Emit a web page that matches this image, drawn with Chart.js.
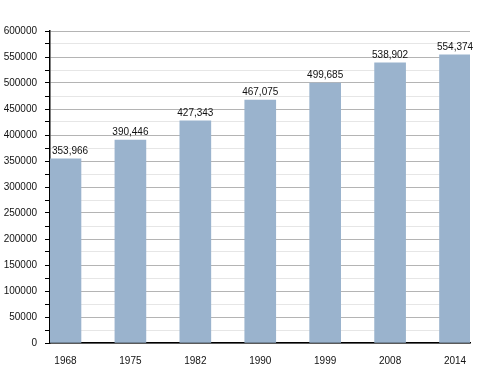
<!DOCTYPE html>
<html>
<head>
<meta charset="utf-8">
<script src="https://cdn.jsdelivr.net/npm/chart.js@4"></script>
<style>
  html, body { margin: 0; padding: 0; background: #fff; }
  #wrap { width: 500px; height: 373px; }
</style>
</head>
<body>
<div id="wrap"><canvas id="pop-chart"></canvas></div>
<script>
const years = ['1968', '1975', '1982', '1990', '1999', '2008', '2014'];
const population = [353966, 390446, 427343, 467075, 499685, 538902, 554374];

const FONT = 'Liberation Sans, Arial, sans-serif';

// draw the value above each bar, kept clear of the y axis
const valueLabels = {
    id: 'valueLabels',
    afterDatasetsDraw(chart) {
        const ctx = chart.ctx;
        const meta = chart.getDatasetMeta(0);
        ctx.save();
        ctx.font = '10px ' + FONT;
        ctx.fillStyle = '#111';
        ctx.textAlign = 'center';
        ctx.textBaseline = 'alphabetic';
        meta.data.forEach((bar, i) => {
            const txt = population[i].toLocaleString('en-US');
            const half = ctx.measureText(txt).width / 2;
            const x = Math.max(bar.x, chart.chartArea.left + half + 2);
            ctx.fillText(txt, x, bar.y - 5);
        });
        ctx.restore();
    }
};

new Chart(document.getElementById('pop-chart').getContext('2d'), {
    type: 'bar',
    data: {
        datasets: [{
            data: population.map((v, i) => ({ x: i, y: v })),
            backgroundColor: '#9ab3cd',
            borderWidth: 0,
            barThickness: 31
        }]
    },
    options: {
        responsive: true,
        maintainAspectRatio: false,
        animation: false,
        layout: { padding: { top: 31, right: 30, left: 0, bottom: 0 } },
        plugins: {
            legend: { display: false },
            tooltip: { enabled: false }
        },
        scales: {
            x: {
                type: 'linear',
                offset: false,
                min: -15.5 / 65,
                max: 6 + 15 / 65,
                afterBuildTicks: s => { s.ticks = years.map((_, i) => ({ value: i })); },
                afterFit: s => { s.height = 30; },
                grid: { display: false, offset: false },
                border: { display: true, color: '#000', width: 1.5 },
                ticks: {
                    callback: v => years[v],
                    font: { family: FONT, size: 10 },
                    color: '#111',
                    padding: 4,
                    maxRotation: 0
                }
            },
            y: {
                min: 0,
                max: 600000,
                afterFit: s => { s.width = 50; },
                grid: {
                    color: c => c.tick.value % 50000 === 0 ? '#b4b4b4' : '#e6e6e6',
                    tickColor: '#000',
                    tickLength: 5,
                    lineWidth: 1
                },
                border: { display: true, color: '#000', width: 1.5 },
                ticks: {
                    stepSize: 25000,
                    autoSkip: false,
                    callback: v => v % 50000 === 0 ? String(v) : '',
                    font: { family: FONT, size: 10 },
                    color: '#111',
                    padding: 8
                }
            }
        }
    },
    plugins: [valueLabels]
});
</script>
</body>
</html>
